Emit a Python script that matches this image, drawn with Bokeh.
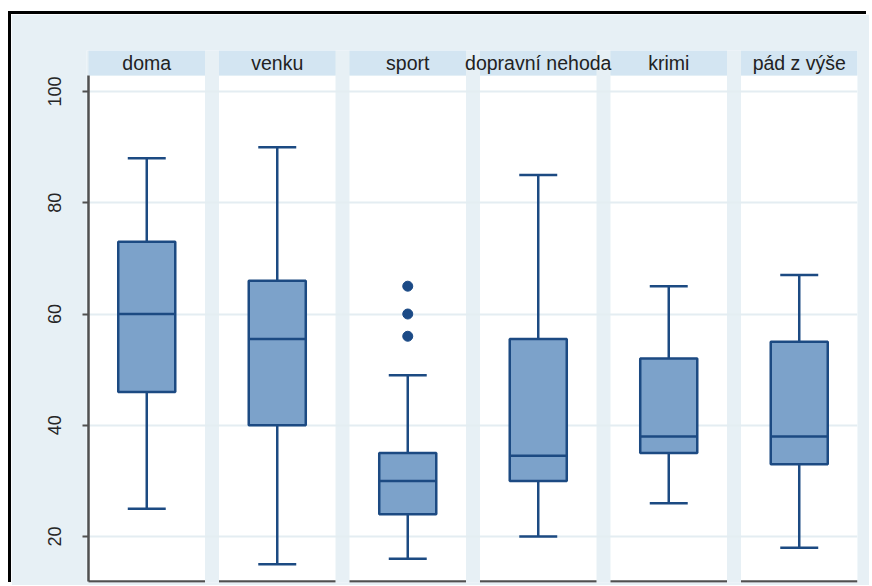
from bokeh.plotting import figure
from bokeh.models import Range1d, FixedTicker, ColumnDataSource, InlineStyleSheet
from bokeh.core.properties import value
from bokeh.embed import file_html
from bokeh.resources import INLINE

# ---- data ----
categories = ["doma", "venku", "sport", "dopravní nehoda", "krimi", "pád z výše"]
whisker_low = [25, 15, 16, 20, 26, 18]
q1 = [46, 40, 24, 30, 35, 33]
median = [60, 55.5, 30, 34.5, 38, 38]
q3 = [73, 66, 35, 55.5, 52, 55]
whisker_high = [88, 90, 49, 85, 65, 67]
outlier_group = ["sport", "sport", "sport"]
outlier_value = [65, 60, 56]
y_ticks = [20, 40, 60, 80, 100]

# ---- layout constants ----
BG = "#e7f0f5"
HEAD = "#d3e5f2"
BOX_FILL = "#7ca2ca"
BOX_LINE = "#1c4a82"
AXIS = "#505050"
HW = 0.4464        # half width of a panel (x units)
BOX_W = 0.437
CAP_W = 0.291
Y_BOTTOM = 11.91
Y_TOP = 102.876
Y_HEAD = 107.371

xs = list(range(len(categories)))
pos = {c: i for i, c in enumerate(categories)}

p = figure(width=858, height=571, title=None,
           x_range=Range1d(-HW - 2 / 130.5, len(categories) - 1 + HW),
           y_range=Range1d(11.551 + 1 / 5.5625, Y_HEAD),
           output_backend="svg", toolbar_location=None,
           x_axis_location=None, y_axis_location="left",
           min_border_left=75, min_border_right=12,
           min_border_top=36, min_border_bottom=3)
p.styles = {"margin-top": "14px", "margin-left": "11px",
            "box-shadow": "-3px -3px 0 0 black", "overflow": "hidden"}
p.stylesheets = [InlineStyleSheet(css=":host, :host * { scrollbar-width: none !important; } "
                                      "svg { display: block; } "
                                      ":host *::-webkit-scrollbar { display: none; }")]
p.background_fill_color = BG
p.border_fill_color = BG
p.outline_line_color = None
p.xgrid.visible = False
p.ygrid.ticker = FixedTicker(ticks=y_ticks)
p.ygrid.grid_line_color = "#e4edf2"
p.ygrid.grid_line_width = 2

# panels and header strips
p.quad(left=[x - HW for x in xs], right=[x + HW for x in xs],
       bottom=Y_BOTTOM, top=Y_TOP, fill_color="white", line_color=None, level="image")
p.quad(left=[x - HW for x in xs], right=[x + HW for x in xs],
       bottom=Y_TOP, top=Y_HEAD, fill_color=HEAD, line_color=None, level="image")
p.text(x=xs, y=[(Y_TOP + Y_HEAD) / 2] * len(xs), text=categories,
       text_align="center", text_baseline="middle",
       text_font=value("Liberation Sans"), text_font_size="19.5px", text_color="#222222")

# axis lines
p.segment(x0=[x - HW for x in xs], x1=[x + HW for x in xs],
          y0=Y_BOTTOM, y1=Y_BOTTOM, line_color=AXIS, line_width=2.5)
p.segment(x0=[-HW], x1=[-HW], y0=[Y_BOTTOM], y1=[Y_TOP], line_color=AXIS, line_width=2.5)

# boxes
src = ColumnDataSource(dict(x=xs, lo=whisker_low, q1=q1, med=median, q3=q3, hi=whisker_high))
p.segment(x0="x", x1="x", y0="q3", y1="hi", source=src, line_color=BOX_LINE, line_width=2.5)
p.segment(x0="x", x1="x", y0="lo", y1="q1", source=src, line_color=BOX_LINE, line_width=2.5)
p.segment(x0=[x - CAP_W / 2 for x in xs], x1=[x + CAP_W / 2 for x in xs],
          y0=whisker_high, y1=whisker_high, line_color=BOX_LINE, line_width=2.5)
p.segment(x0=[x - CAP_W / 2 for x in xs], x1=[x + CAP_W / 2 for x in xs],
          y0=whisker_low, y1=whisker_low, line_color=BOX_LINE, line_width=2.5)
p.vbar(x="x", width=BOX_W, bottom="q1", top="q3", source=src,
       fill_color=BOX_FILL, line_color=BOX_LINE, line_width=2.5)
p.segment(x0=[x - BOX_W / 2 for x in xs], x1=[x + BOX_W / 2 for x in xs],
          y0=median, y1=median, line_color=BOX_LINE, line_width=2.5)

# outliers
p.scatter(x=[pos[g] for g in outlier_group], y=outlier_value, size=10,
          marker="circle", fill_color="#1b4a86", line_color="#1b4a86")

# y axis
yax = p.yaxis[0]
yax.ticker = FixedTicker(ticks=y_ticks)
yax.axis_line_color = None
yax.major_tick_line_color = AXIS
yax.major_tick_line_width = 2
yax.major_tick_out = 4
yax.major_tick_in = 2
yax.minor_tick_line_color = None
yax.major_label_orientation = "vertical"
yax.major_label_standoff = 21
yax.major_label_text_font = "Liberation Sans"
yax.major_label_text_font_size = "18px"
yax.major_label_text_color = "#262626"

open("out.html", "w").write(file_html(p, INLINE))
